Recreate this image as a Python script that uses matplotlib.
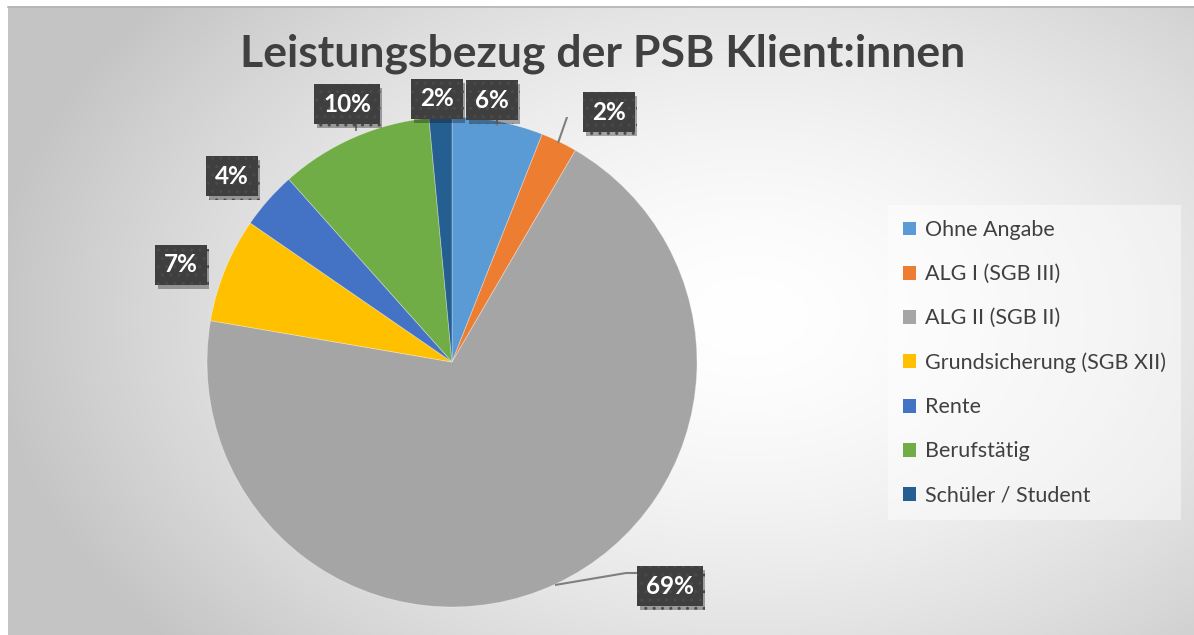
import matplotlib
matplotlib.use("Agg")
import matplotlib.pyplot as plt
import matplotlib.patheffects as pe
from matplotlib.patches import Patch
import numpy as np

# data (percent of clients)
categories = ["Ohne Angabe", "ALG I (SGB III)", "ALG II (SGB II)",
              "Grundsicherung (SGB XII)", "Rente", "Berufstätig",
              "Schüler / Student"]
values = [6.0, 2.4, 69.3, 6.9, 3.8, 10.1, 1.5]
colors = ["#5B9BD5", "#ED7D31", "#A5A5A5", "#FFC000", "#4472C4",
          "#70AD47", "#255E91"]
title = "Leistungsbezug der PSB Klient:innen"

# label box centres in pixel coords (x, y from top)
label_pos = [(492, 100), (609, 112), (670, 586), (181, 265),
             (232, 176), (347, 104), (437, 99)]

W, H = 1194, 635
plt.rcParams['font.family'] = ['Lato', 'DejaVu Sans']
plt.rcParams['hatch.linewidth'] = 1.0
fig = plt.figure(figsize=(W / 100, H / 100), dpi=100)
fig.patch.set_facecolor("white")

# background with radial gradient
bg = fig.add_axes([8 / W, 0, (W - 8) / W, (H - 6) / H])
yy, xx = np.mgrid[0:629, 0:1186]
d = np.sqrt(((xx - 740) / 780) ** 2 + ((yy - 310) / 520) ** 2)
shade = np.clip(1.0 - 0.24 * d ** 1.6, 0.77, 1.0)
bg.imshow(np.dstack([shade] * 3), aspect="auto", extent=[0, 1, 0, 1])
bg.set_axis_off()
fig.add_artist(plt.Line2D([8 / W, 1], [(H - 6.5) / H] * 2, color="#b4b4b4", lw=1.2))

# pie
cx, cy, r = 452, 362, 245
ax = fig.add_axes([(cx - r) / W, (H - cy - r) / H, 2 * r / W, 2 * r / H])
wedges, _ = ax.pie(values, colors=colors, startangle=90, counterclock=False,
                   radius=1, wedgeprops=dict(linewidth=0.6, edgecolor=(1, 1, 1, 0.35)))
ax.set_xlim(-1, 1)
ax.set_ylim(-1, 1)
ax.set_axis_off()


def to_data(px, py):
    return (px - cx) / r, (cy - py) / r


# leader lines
lines = [[(573, 100), (590, 100)], [(558, 143), (573, 100)],
         [(555, 585), (626, 573)], [(626, 573), (645, 573)],
         [(497, 118), (497, 126)], [(356, 124), (356, 131)]]
for seg in lines:
    xs, ys = zip(*[to_data(*p) for p in seg])
    ax.plot(xs, ys, color="#7f7f7f", lw=1.5, zorder=4, solid_capstyle="butt")

for v, (px, py) in zip(values, label_pos):
    x, y = to_data(px, py)
    t = ax.text(x, y, f"{v:.0f}%", ha="center", va="center", color="white",
                fontsize=17.5, fontweight="bold", zorder=5,
                bbox=dict(boxstyle="square,pad=0.36", facecolor="#3f3f3f",
                          edgecolor="#4a4a4a", linewidth=0, hatch=".."))
    t.get_bbox_patch().set_path_effects([pe.withSimplePatchShadow(offset=(2, -3), alpha=0.35)])

# title
fig.text(603 / W, 1 - 54 / H, title, ha="center", va="center", fontsize=32,
         fontweight="bold", color="#404040")

# legend
handles = [Patch(facecolor=c, label=l) for c, l in zip(colors, categories)]
leg = fig.legend(handles=handles, loc="upper left",
                 bbox_to_anchor=(888 / W, 1 - 205 / H), fontsize=15.5,
                 frameon=True, fancybox=False, framealpha=0.45,
                 facecolor="white", edgecolor="none", handlelength=0.62,
                 handleheight=0.62, handletextpad=0.4, labelspacing=1.12,
                 borderpad=0.7, borderaxespad=0)
for txt in leg.get_texts():
    txt.set_color("#404040")

fig.savefig("out.png", dpi=100)
